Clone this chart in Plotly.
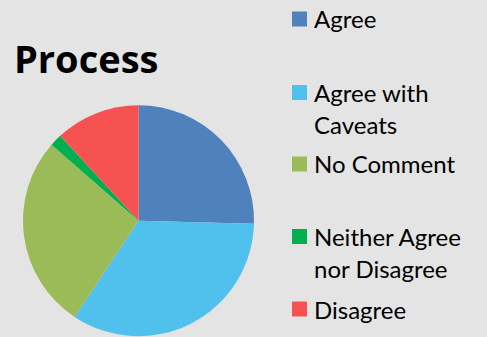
import plotly.graph_objects as go

# Survey responses for "Process"
categories = ["Agree", "Agree with Caveats", "No Comment", "Neither Agree nor Disagree", "Disagree"]
counts = [15, 20, 16, 1, 7]
colors = ["#4f81bd", "#4fc1ec", "#9bbb59", "#00b050", "#f75252"]
# legend text, wrapped the way it is shown
legend_lines = [["Agree"], ["Agree with", "Caveats"], ["No Comment"], ["Neither Agree", "nor Disagree"], ["Disagree"]]
legend_centers_px = [19, 92.5, 164, 236.5, 309]  # vertical centre of each entry's swatch

W, H = 487, 337
BG = "#e4e4e4"

cx, cy, r = 138.5, 220.7, 115.5
fig = go.Figure(go.Pie(
    labels=categories,
    values=counts,
    sort=False,
    direction="clockwise",
    rotation=0,
    marker=dict(colors=colors, line=dict(width=0)),
    textinfo="none",
    showlegend=False,
    domain=dict(x=[(cx - r) / W, (cx + r) / W],
                y=[(H - cy - r) / H, (H - cy + r) / H]),
))

shapes = []
annotations = [dict(text="<b>Process</b>", x=12 / W, y=1 - 58 / H, xref="paper", yref="paper",
                    xanchor="left", yanchor="middle", showarrow=False,
                    font=dict(family="Open Sans", size=38, color="#000000"))]

sw = 15
line_h = 32
for lines, col, yc in zip(legend_lines, colors, legend_centers_px):
    shapes.append(dict(type="rect", xref="paper", yref="paper",
                       x0=292 / W, x1=(292 + sw) / W,
                       y0=1 - (yc + sw / 2) / H, y1=1 - (yc - sw / 2) / H,
                       fillcolor=col, line=dict(width=0)))
    for i, t in enumerate(lines):
        annotations.append(dict(text=t, x=312 / W, y=1 - (yc + i * line_h) / H,
                                xref="paper", yref="paper", xanchor="left", yanchor="middle",
                                showarrow=False,
                                font=dict(family="Lato", size=24, color="#000000")))

fig.update_layout(
    width=W, height=H,
    margin=dict(l=0, r=0, t=0, b=0),
    paper_bgcolor=BG, plot_bgcolor=BG,
    shapes=shapes, annotations=annotations,
)

fig.write_html("out.html")
